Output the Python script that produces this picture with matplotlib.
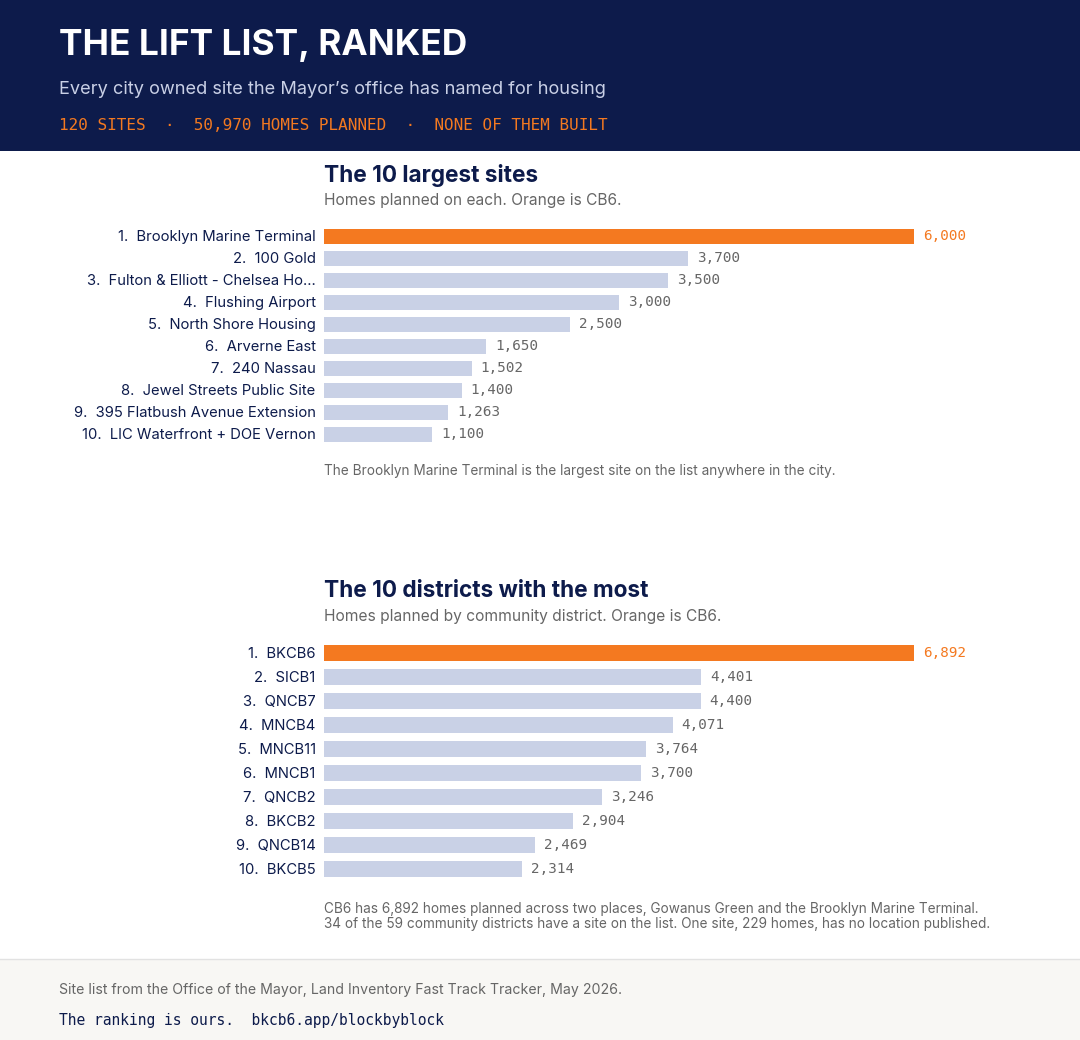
import matplotlib
matplotlib.use('Agg')
from matplotlib import pyplot as plt
from matplotlib.patches import Rectangle

# data
site_names = ["Brooklyn Marine Terminal", "100 Gold", "Fulton & Elliott - Chelsea Ho\u2026",
              "Flushing Airport", "North Shore Housing", "Arverne East", "240 Nassau",
              "Jewel Streets Public Site", "395 Flatbush Avenue Extension",
              "LIC Waterfront + DOE Vernon"]
site_homes = [6000, 3700, 3500, 3000, 2500, 1650, 1502, 1400, 1263, 1100]

district_names = ["BKCB6", "SICB1", "QNCB7", "MNCB4", "MNCB11", "MNCB1", "QNCB2",
                  "BKCB2", "QNCB14", "BKCB5"]
district_homes = [6892, 4401, 4400, 4071, 3764, 3700, 3246, 2904, 2469, 2314]

NAVY = "#0d1b4b"
ORANGE = "#f47920"
BARC = "#c9d1e6"
GREY = "#666666"
SANS = ["Inter", "DejaVu Sans"]
MONO = ["DejaVu Sans Mono"]

W, H = 1080, 1040
fig = plt.figure(figsize=(W / 100, H / 100), dpi=100)
fig.patch.set_facecolor("white")


def fx(x):
    return x / W


def fy(y):
    return 1 - y / H


# header band
fig.patches.append(Rectangle((0, fy(151)), 1, 151 / H, transform=fig.transFigure,
                             facecolor=NAVY, edgecolor="none", zorder=0))
fig.text(fx(59), fy(45), "THE LIFT LIST, RANKED", color="white", fontsize=25.4,
         fontweight="bold", family=SANS, va="center", ha="left")
fig.text(fx(59), fy(90), "Every city owned site the Mayor\u2019s office has named for housing",
         color="#c9d0e6", fontsize=13.1, family=SANS, va="center", ha="left")
fig.text(fx(59), fy(125), "120 SITES  \u00b7  50,970 HOMES PLANNED  \u00b7  NONE OF THEM BUILT",
         color=ORANGE, fontsize=11.5, family=MONO, va="center", ha="left")

# footer band
fig.patches.append(Rectangle((0, 0), 1, (H - 959) / H, transform=fig.transFigure,
                             facecolor="#f8f7f4", edgecolor="none", zorder=0))
fig.lines.append(plt.Line2D([0, 1], [fy(959), fy(959)], transform=fig.transFigure,
                            color="#e2e2e2", lw=1))
fig.text(fx(59), fy(990), "Site list from the Office of the Mayor, Land Inventory Fast Track Tracker, May 2026.",
         color=GREY, fontsize=10.2, family=SANS, va="center", ha="left")
fig.text(fx(59), fy(1020), "The ranking is ours.  bkcb6.app/blockbyblock",
         color=NAVY, fontsize=10.5, family=MONO, va="center", ha="left")


def ranked_bars(names, values, top, step, bar_px, title, subtitle, title_y, notes, note_y):
    n = len(names)
    ax = fig.add_axes([fx(324), fy(top + step * n), fx(914) - fx(324), step * n / H])
    ax.set_xlim(0, max(values))
    ax.set_ylim(n - 0.5, -0.5)
    ax.axis("off")
    cols = [ORANGE] + [BARC] * (n - 1)
    ax.barh(range(n), values, height=bar_px / step, color=cols, edgecolor="none")
    for i, (nm, v) in enumerate(zip(names, values)):
        ax.annotate(f"{i + 1}.  {nm}", (0, i), xytext=(-6, -0.7), textcoords="offset points",
                    ha="right", va="center", fontsize=10.65, color=NAVY, family=SANS)
        ax.annotate(f"{v:,}", (v, i), xytext=(6.5, 0), textcoords="offset points",
                    ha="left", va="center", fontsize=10.3, family=MONO,
                    color=ORANGE if i == 0 else GREY)
    fig.text(fx(324), fy(title_y), title, color=NAVY, fontsize=16.3, fontweight="bold",
             family=SANS, va="center", ha="left")
    fig.text(fx(324), fy(title_y + 25), subtitle, color=GREY, fontsize=11.2,
             family=SANS, va="center", ha="left")
    for k, line in enumerate(notes):
        fig.text(fx(324), fy(note_y + 15 * k), line, color=GREY, fontsize=9.8,
                 family=SANS, va="center", ha="left")


ranked_bars(site_names, site_homes, 225, 22, 15, "The 10 largest sites",
            "Homes planned on each. Orange is CB6.", 175,
            ["The Brooklyn Marine Terminal is the largest site on the list anywhere in the city."], 471)

ranked_bars(district_names, district_homes, 641, 24, 16, "The 10 districts with the most",
            "Homes planned by community district. Orange is CB6.", 591,
            ["CB6 has 6,892 homes planned across two places, Gowanus Green and the Brooklyn Marine Terminal.",
             "34 of the 59 community districts have a site on the list. One site, 229 homes, has no location published."],
            909)

fig.savefig("out.png", dpi=100)
